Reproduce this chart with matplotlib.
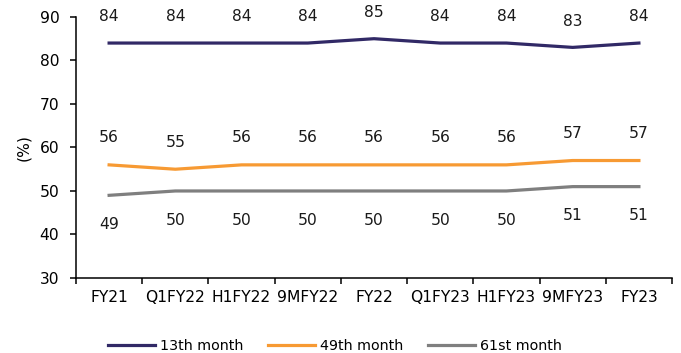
import matplotlib.pyplot as plt

periods = ["FY21", "Q1FY22", "H1FY22", "9MFY22", "FY22", "Q1FY23", "H1FY23", "9MFY23", "FY23"]
month_13 = [84, 84, 84, 84, 85, 84, 84, 83, 84]
month_49 = [56, 55, 56, 56, 56, 56, 56, 57, 57]
month_61 = [49, 50, 50, 50, 50, 50, 50, 51, 51]

# label offsets in points: above the line for the first two series, below for the last
series = [
    ("13th month", month_13, "#312966", 19),
    ("49th month", month_49, "#F79A33", 19.5),
    ("61st month", month_61, "#7F7F7F", -21),
]

plt.rcParams["font.family"] = ["DejaVu Sans"]
plt.rcParams["font.size"] = 11.2

fig = plt.figure(figsize=(6.81, 3.53), dpi=100)
ax = fig.add_axes([0.1116, 0.2125, 0.8752, 0.7395])

x = list(range(len(periods)))
for name, values, color, offset in series:
    ax.plot(x, values, color=color, linewidth=2.3, label=name)
    for xi, v in zip(x, values):
        ax.annotate(str(v), (xi, v), xytext=(0, offset), textcoords="offset points",
                    ha="center", va="center", color="#1a1a1a")

ax.set_xlim(-0.5, len(periods) - 0.5)
ax.set_ylim(30, 90)
ax.set_yticks(range(30, 91, 10))
ax.set_xticks(x)
ax.set_xticklabels(periods)
ax.set_xticks([i - 0.5 for i in range(len(periods) + 1)], minor=True)
ax.tick_params(axis="x", which="major", length=0, pad=9)
ax.tick_params(axis="x", which="minor", length=4, width=1.1)
ax.tick_params(axis="y", length=4, width=1.1, pad=8)
ax.set_ylabel("(%)", labelpad=6)
for side in ("top", "right"):
    ax.spines[side].set_visible(False)
for side in ("left", "bottom"):
    ax.spines[side].set_linewidth(1.1)

fig.legend(loc="center", bbox_to_anchor=(0.492, 0.02), ncol=3, frameon=False, fontsize=10.3,
           handlelength=3.3, columnspacing=1.7, handletextpad=0.35)

fig.savefig("out.png", dpi=100)
